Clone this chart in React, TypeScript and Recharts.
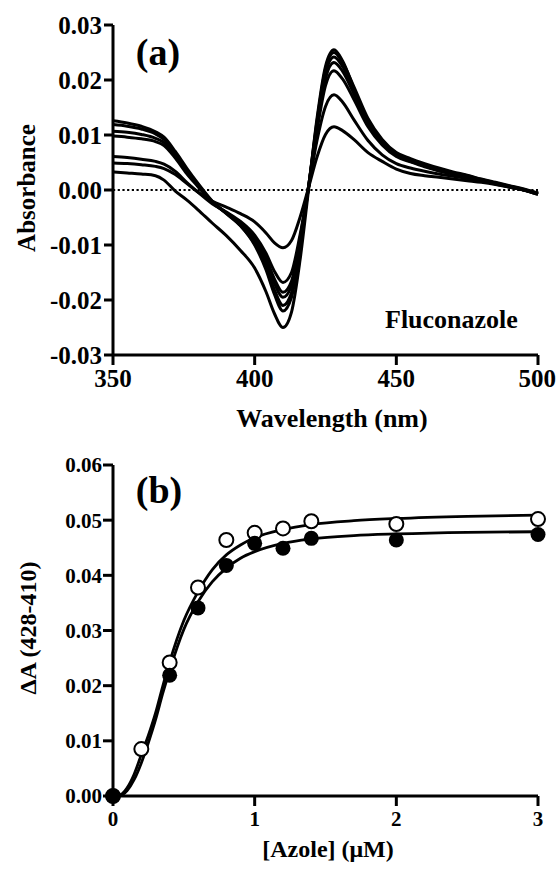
import { LineChart, Line, XAxis, YAxis, ReferenceLine, ComposedChart, Scatter } from "recharts";

// (a) difference spectra, Fluconazole titration
const wavelengths = [350, 355, 360, 365, 368, 372, 376, 380, 385, 390, 395, 400, 404, 407, 410, 413, 416, 419, 422, 425, 428, 431, 435, 440, 445, 450, 455, 460, 465, 470, 475, 480, 485, 490, 495, 500];

const specA = [0.0033, 0.0031, 0.0029, 0.0026, 0.0018, -0.0002, -0.0018, -0.0036, -0.006, -0.0083, -0.011, -0.0142, -0.0185, -0.0225, -0.025, -0.0222, -0.0128, 0.0, 0.013, 0.0225, 0.0255, 0.0235, 0.0185, 0.0125, 0.0088, 0.0065, 0.0052, 0.0044, 0.0035, 0.003, 0.0024, 0.0018, 0.0012, 0.0006, 0.0, -0.0008];
const specB = [0.0126, 0.0122, 0.0116, 0.0106, 0.0096, 0.007, 0.004, 0.0012, -0.002, -0.0042, -0.0065, -0.01, -0.0145, -0.019, -0.022, -0.0195, -0.0105, 0.0005, 0.0125, 0.022, 0.025, 0.0232, 0.0188, 0.013, 0.0092, 0.0068, 0.0057, 0.0048, 0.004, 0.0033, 0.0027, 0.002, 0.0014, 0.0008, 0.0002, -0.0006];
const specC = [0.0119, 0.0116, 0.0111, 0.0102, 0.0092, 0.0066, 0.0036, 0.001, -0.0021, -0.0043, -0.0065, -0.0098, -0.014, -0.0182, -0.021, -0.0187, -0.01, 0.0005, 0.012, 0.0212, 0.0242, 0.0225, 0.0182, 0.0126, 0.009, 0.0066, 0.0055, 0.0046, 0.0038, 0.0031, 0.0026, 0.0019, 0.0013, 0.0007, 0.0001, -0.0007];
const specD = [0.0107, 0.0105, 0.0101, 0.0094, 0.0086, 0.0062, 0.0033, 0.0008, -0.0022, -0.0042, -0.0063, -0.0093, -0.013, -0.017, -0.0195, -0.0174, -0.0092, 0.0006, 0.0115, 0.0203, 0.0232, 0.0216, 0.0175, 0.0122, 0.0087, 0.0064, 0.0053, 0.0044, 0.0036, 0.003, 0.0025, 0.0018, 0.0012, 0.0006, 0.0, -0.0008];
const specE = [0.0098, 0.0096, 0.0093, 0.0088, 0.0081, 0.0058, 0.003, 0.0006, -0.0023, -0.0041, -0.006, -0.0088, -0.0124, -0.0162, -0.0186, -0.0166, -0.0088, 0.0006, 0.0108, 0.019, 0.0217, 0.0202, 0.0165, 0.0115, 0.0082, 0.0061, 0.0051, 0.0042, 0.0035, 0.0029, 0.0024, 0.0018, 0.0012, 0.0006, 0.0, -0.0007];
const specF = [0.0061, 0.0059, 0.0056, 0.0052, 0.0047, 0.0034, 0.0014, -0.0004, -0.0025, -0.004, -0.0057, -0.0082, -0.0115, -0.0148, -0.0168, -0.015, -0.0082, 0.0003, 0.009, 0.0152, 0.0173, 0.016, 0.0128, 0.009, 0.0064, 0.0048, 0.004, 0.0034, 0.0029, 0.0025, 0.0021, 0.0016, 0.0011, 0.0005, 0.0, -0.0006];
const specG = [0.0049, 0.0048, 0.0046, 0.0043, 0.0039, 0.0028, 0.0012, -0.0004, -0.002, -0.0031, -0.0043, -0.0058, -0.0078, -0.0096, -0.0105, -0.0092, -0.005, 0.0004, 0.006, 0.0101, 0.0115, 0.0108, 0.0092, 0.0068, 0.0052, 0.0038, 0.003, 0.0026, 0.0023, 0.002, 0.0017, 0.0014, 0.001, 0.0005, 0.0, -0.0005];

const spectra = [specA, specB, specC, specD, specE, specF, specG];
const absTicks = [-0.03, -0.02, -0.01, 0, 0.01, 0.02, 0.03];
const waveTicks = [350, 400, 450, 500];

// (b) binding curve
const azoleOpen = [0, 0.2, 0.4, 0.6, 0.8, 1.0, 1.2, 1.4, 2.0, 3.0];
const deltaOpen = [0, 0.0085, 0.0242, 0.0378, 0.0464, 0.0477, 0.0485, 0.0498, 0.0493, 0.0502];
const azoleFilled = [0, 0.4, 0.6, 0.8, 1.0, 1.2, 1.4, 2.0, 3.0];
const deltaFilled = [0, 0.0219, 0.0341, 0.0418, 0.0458, 0.0449, 0.0467, 0.0464, 0.0474];

const fitX = [0, 0.05, 0.1, 0.15, 0.2, 0.25, 0.3, 0.35, 0.4, 0.5, 0.6, 0.7, 0.8, 0.9, 1.0, 1.2, 1.4, 1.7, 2.0, 2.5, 3.0];
const fitOpen = [0, 0.0002, 0.0015, 0.004, 0.0075, 0.011, 0.015, 0.0198, 0.0243, 0.0318, 0.037, 0.041, 0.0437, 0.0455, 0.0468, 0.0483, 0.0492, 0.0499, 0.0503, 0.0507, 0.0509];
const fitFilled = [0, 0.0001, 0.001, 0.003, 0.006, 0.0097, 0.0138, 0.0185, 0.0228, 0.0302, 0.0352, 0.0388, 0.0413, 0.0431, 0.0443, 0.0458, 0.0466, 0.0472, 0.0475, 0.0478, 0.0479];

const deltaTicks = [0, 0.01, 0.02, 0.03, 0.04, 0.05, 0.06];
const azoleTicks = [0, 1, 2, 3];

const serif = "'Liberation Serif', 'Times New Roman', serif";

const spectraData = wavelengths.map((w, i) => {
  const row: Record<string, number> = { w };
  spectra.forEach((s, k) => (row["s" + k] = s[i]));
  return row;
});
const openPts = azoleOpen.map((x, i) => ({ x, y: deltaOpen[i] }));
const filledPts = azoleFilled.map((x, i) => ({ x, y: deltaFilled[i] }));
const fitOpenData = fitX.map((x, i) => ({ x, y: fitOpen[i] }));
const fitFilledData = fitX.map((x, i) => ({ x, y: fitFilled[i] }));

const axisProps = {
  stroke: "#000",
  strokeWidth: 3,
  tickLine: { stroke: "#000", strokeWidth: 3 },
  axisLine: { stroke: "#000", strokeWidth: 3 },
};

const OpenDot = (p: any) => (
  <circle cx={p.cx} cy={p.cy} r={7} fill="#fff" stroke="#000" strokeWidth={2} />
);
const FilledDot = (p: any) => <circle cx={p.cx} cy={p.cy} r={7.5} fill="#000" />;

export default function App() {
  const tickA = { fontFamily: serif, fontWeight: "bold", fontSize: 25, fill: "#000" };
  const tickB = { fontFamily: serif, fontWeight: "bold", fontSize: 21, fill: "#000" };

  return (
    <div style={{ position: "absolute", left: 0, top: 0, width: 556, height: 869, background: "#fff" }}>
      {/* === (a) spectra === */}
      <div style={{ position: "absolute", left: 0, top: 0 }}>
        <LineChart width={556} height={440} data={spectraData} margin={{ top: 25, right: 18, bottom: 45, left: 23 }}>
          <XAxis
            dataKey="w"
            type="number"
            domain={[350, 500]}
            ticks={waveTicks}
            height={40}
            tickSize={10}
            tickMargin={4}
            tick={tickA}
            {...axisProps}
          />
          <YAxis
            type="number"
            domain={[-0.03, 0.03]}
            ticks={absTicks}
            width={90}
            tickSize={9}
            tickMargin={2}
            tick={tickA}
            tickFormatter={(v: number) => v.toFixed(2)}
            {...axisProps}
          />
          <ReferenceLine y={0} stroke="#000" strokeWidth={2} strokeDasharray="2.2 2.5" />
          {spectra.map((_, k) => (
            <Line
              key={k}
              dataKey={"s" + k}
              type="monotone"
              stroke="#000"
              strokeWidth={3}
              dot={false}
              isAnimationActive={false}
            />
          ))}
        </LineChart>
      </div>

      {/* === (b) titration === */}
      <div style={{ position: "absolute", left: 0, top: 440 }}>
        <ComposedChart width={556} height={429} margin={{ top: 25, right: 18, bottom: 33, left: 23 }}>
          <XAxis
            dataKey="x"
            type="number"
            domain={[0, 3]}
            ticks={azoleTicks}
            height={40}
            tickSize={10}
            tickMargin={5}
            tick={tickB}
            {...axisProps}
          />
          <YAxis
            type="number"
            domain={[0, 0.06]}
            ticks={deltaTicks}
            width={90}
            tickSize={10}
            tickMargin={1}
            tick={tickB}
            tickFormatter={(v: number) => v.toFixed(2)}
            {...axisProps}
          />
          <Line data={fitOpenData} dataKey="y" type="monotone" stroke="#000" strokeWidth={2.8} dot={false} isAnimationActive={false} />
          <Line data={fitFilledData} dataKey="y" type="monotone" stroke="#000" strokeWidth={2.8} dot={false} isAnimationActive={false} />
          <Scatter data={openPts} dataKey="y" shape={OpenDot} isAnimationActive={false} />
          <Scatter data={filledPts} dataKey="y" shape={FilledDot} isAnimationActive={false} />
        </ComposedChart>
      </div>

      {/* === titles and panel labels === */}
      <svg width={556} height={869} style={{ position: "absolute", left: 0, top: 0, pointerEvents: "none" }}>
        <g fontFamily={serif} fontWeight="bold" fill="#000">
          <text x={158} y={65} fontSize={38} textAnchor="middle">(a)</text>
          <text x={385} y={328} fontSize={26}>Fluconazole</text>
          <text x={332} y={427} fontSize={26} textAnchor="middle">Wavelength (nm)</text>
          <text transform="translate(35,188) rotate(-90)" fontSize={25} textAnchor="middle">Absorbance</text>

          <text x={159} y={503} fontSize={38} textAnchor="middle">(b)</text>
          <text x={328} y={857} fontSize={24} textAnchor="middle">[Azole] (μM)</text>
          <text transform="translate(36,628) rotate(-90)" fontSize={24} textAnchor="middle">ΔA (428-410)</text>
        </g>
      </svg>
    </div>
  );
}
